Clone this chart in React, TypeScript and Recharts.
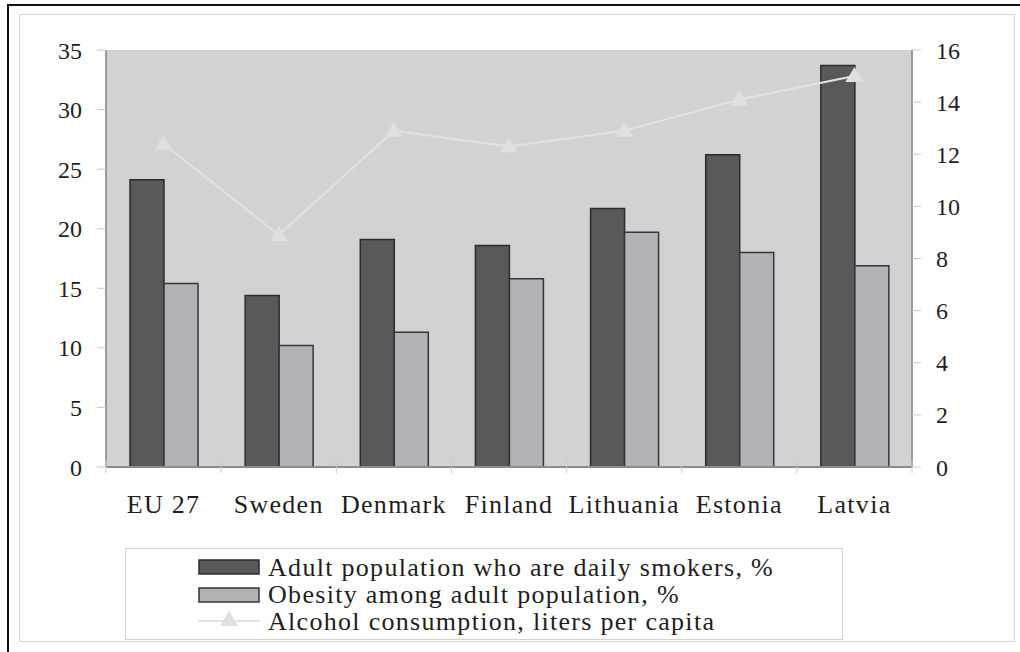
import React from 'react'
import {
  ComposedChart,
  Bar,
  Line,
  XAxis,
  YAxis,
  CartesianGrid,
  Legend,
} from 'recharts'

const countries = ['EU 27', 'Sweden', 'Denmark', 'Finland', 'Lithuania', 'Estonia', 'Latvia']
const smokers = [24.1, 14.4, 19.1, 18.6, 21.7, 26.2, 33.7]
const obesity = [15.4, 10.2, 11.3, 15.8, 19.7, 18.0, 16.9]
const alcohol = [12.4, 8.9, 12.9, 12.3, 12.9, 14.1, 15.0]
const leftTicks = [0, 5, 10, 15, 20, 25, 30, 35]
const rightTicks = [0, 2, 4, 6, 8, 10, 12, 14, 16]
const seriesNames = [
  'Adult population who are daily smokers, %',
  'Obesity among adult population, %',
  'Alcohol consumption, liters per capita',
]

const data = countries.map((name, i) => ({
  name,
  smokers: smokers[i],
  obesity: obesity[i],
  alcohol: alcohol[i],
}))

const FONT = '"Liberation Serif", "Times New Roman", serif'
const DARK = '#58595b'
const DARK_STROKE = '#2b2b2b'
const LIGHT = '#b2b3b6'
const LIGHT_STROKE = '#353535'
const LINE = '#e3e3e3'
const PLOT_W = 806
const BAND = PLOT_W / countries.length

function Triangle(props: any) {
  const { cx, cy } = props
  if (cx == null || cy == null) return null
  return (
    <polygon
      points={`${cx},${cy - 9} ${cx - 9},${cy + 6} ${cx + 9},${cy + 6}`}
      fill="#e0e0e0"
    />
  )
}

function CountryTick(props: any) {
  const { x, y, payload, index } = props
  return (
    <g>
      <line x1={x - BAND / 2} x2={x - BAND / 2} y1={y - 7} y2={y + 6} stroke="#c8c8c8" />
      {index === countries.length - 1 && (
        <line x1={x + BAND / 2} x2={x + BAND / 2} y1={y - 7} y2={y + 6} stroke="#c8c8c8" />
      )}
      <text
        x={x}
        y={y + 46}
        textAnchor="middle"
        fontFamily={FONT}
        fontSize={26}
        letterSpacing={1.3}
        fill="#1e1e1e"
      >
        {payload.value}
      </text>
    </g>
  )
}

function LegendBox() {
  const rowY = [27, 54, 81]
  return (
    <div
      style={{
        width: 718,
        height: 92,
        border: '1px solid #d2d2d2',
        boxSizing: 'border-box',
        background: '#fff',
      }}
    >
      <svg width={716} height={90}>
        <rect x={73} y={11} width={60} height={14} fill={DARK} stroke={DARK_STROKE} strokeWidth={1.5} />
        <rect x={73} y={39} width={60} height={14} fill={LIGHT} stroke={LIGHT_STROKE} strokeWidth={1.5} />
        <line x1={72} x2={134} y1={72} y2={72} stroke={LINE} strokeWidth={2} />
        <Triangle cx={103} cy={71} />
        {seriesNames.map((n, i) => (
          <text
            key={n}
            x={142}
            y={rowY[i]}
            fontFamily={FONT}
            fontSize={26}
            letterSpacing={1.3}
            fill="#1e1e1e"
          >
            {n}
          </text>
        ))}
      </svg>
    </div>
  )
}

export default function App() {
  const tickStyle = { fontFamily: FONT, fontSize: 24, fill: '#1e1e1e' }
  return (
    <div
      style={{
        position: 'absolute',
        left: 0,
        top: 0,
        width: 1020,
        height: 652,
        background: '#fff',
        overflow: 'hidden',
      }}
    >
      <div
        style={{
          position: 'absolute',
          left: 7,
          top: 4,
          width: 1030,
          height: 660,
          borderTop: '2px solid #111',
          borderLeft: '2px solid #111',
        }}
      />
      <div
        style={{
          position: 'absolute',
          left: 19,
          top: 14,
          width: 996,
          height: 628,
          border: '1px solid #d6d6d6',
          boxSizing: 'border-box',
        }}
      />
      <div style={{ position: 'absolute', left: 0, top: 0 }}>
        <ComposedChart
          width={1020}
          height={652}
          data={data}
          barGap={0}
          margin={{ top: 50, right: 0, bottom: 0, left: 0 }}
        >
          <CartesianGrid
            yAxisId="left"
            horizontal={false}
            vertical={false}
            fill="#d1d2d4"
            fillOpacity={1}
          />
          <XAxis
            dataKey="name"
            height={185}
            axisLine={{ stroke: '#8c8c8c', strokeWidth: 2 }}
            tickLine={false}
            tickSize={0}
            tickMargin={0}
            interval={0}
            tick={<CountryTick />}
          />
          <XAxis
            xAxisId="top"
            dataKey="name"
            orientation="top"
            height={0}
            tick={false}
            tickLine={false}
            axisLine={{ stroke: '#8c8c8c', strokeWidth: 2 }}
          />
          <YAxis
            yAxisId="left"
            width={106}
            domain={[0, 35]}
            ticks={leftTicks}
            interval={0}
            axisLine={{ stroke: '#9a9a9a', strokeWidth: 2 }}
            tickLine={{ stroke: '#c8c8c8' }}
            tickSize={9}
            tickMargin={15}
            tick={tickStyle}
          />
          <YAxis
            yAxisId="right"
            orientation="right"
            width={108}
            domain={[0, 16]}
            ticks={rightTicks}
            interval={0}
            axisLine={{ stroke: '#9a9a9a', strokeWidth: 2 }}
            tickLine={{ stroke: '#c8c8c8' }}
            tickSize={9}
            tickMargin={15}
            tick={tickStyle}
          />
          <Bar
            yAxisId="left"
            dataKey="smokers"
            name={seriesNames[0]}
            barSize={34}
            fill={DARK}
            stroke={DARK_STROKE}
            strokeWidth={1.5}
            isAnimationActive={false}
          />
          <Bar
            yAxisId="left"
            dataKey="obesity"
            name={seriesNames[1]}
            barSize={34}
            fill={LIGHT}
            stroke={LIGHT_STROKE}
            strokeWidth={1.5}
            isAnimationActive={false}
          />
          <Line
            yAxisId="right"
            dataKey="alcohol"
            name={seriesNames[2]}
            type="linear"
            stroke={LINE}
            strokeWidth={2}
            dot={<Triangle />}
            activeDot={false}
            isAnimationActive={false}
          />
          <Legend
            layout="vertical"
            align="center"
            verticalAlign="middle"
            content={() => <LegendBox />}
            wrapperStyle={{ position: 'absolute', left: 125, top: 548, width: 718, height: 92 }}
          />
        </ComposedChart>
      </div>
    </div>
  )
}
